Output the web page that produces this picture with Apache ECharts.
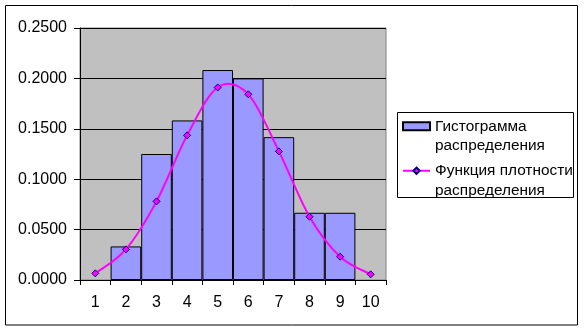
<!DOCTYPE html>
<html>
<head>
<meta charset="utf-8">
<script src="https://cdn.jsdelivr.net/npm/echarts@6/dist/echarts.min.js"></script>
<style>
html,body{margin:0;padding:0;background:#fff;}
#c{width:585px;height:332px;}
</style>
</head>
<body>
<div id="c"></div>
<script>
var categories = ['1','2','3','4','5','6','7','8','9','10'];
var histValues = ['-', 0.0333, 0.1250, 0.1583, 0.2083, 0.2000, 0.1417, 0.0667, 0.0667, '-'];
var densityValues = [0.0066, 0.0304, 0.0780, 0.1435, 0.1910, 0.1842, 0.1276, 0.0628, 0.0231, 0.0056];
var seriesNames = ['Гистограмма\nраспределения', 'Функция плотности\nраспределения'];

var font = 'Liberation Sans, Arial, sans-serif';
var chart = echarts.init(document.getElementById('c'), null, {renderer: 'canvas'});

function renderCurve(params, api) {
  var pts = densityValues.map(function (v, i) { return api.coord([i, v]); });
  var n = pts.length, children = [];
  for (var i = 0; i < n - 1; i++) {
    var p0 = pts[Math.max(i - 1, 0)], p1 = pts[i], p2 = pts[i + 1], p3 = pts[Math.min(i + 2, n - 1)];
    children.push({
      type: 'bezierCurve',
      shape: {
        x1: p1[0], y1: p1[1],
        cpx1: p1[0] + (p2[0] - p0[0]) / 6, cpy1: p1[1] + (p2[1] - p0[1]) / 6,
        cpx2: p2[0] - (p3[0] - p1[0]) / 6, cpy2: p2[1] - (p3[1] - p1[1]) / 6,
        x2: p2[0], y2: p2[1]
      },
      style: {stroke: '#FF00FF', lineWidth: 2, fill: null}
    });
  }
  return {type: 'group', children: children};
}

chart.setOption({
  animation: false,
  backgroundColor: '#ffffff',
  graphic: [{
    type: 'rect',
    shape: {x: 5.5, y: 5.5, width: 572, height: 319.5},
    style: {fill: 'none', stroke: '#000', lineWidth: 1},
    z: -1
  }, {
    type: 'rect',
    shape: {x: 397.5, y: 112.5, width: 176, height: 85},
    style: {fill: '#fff', stroke: '#000', lineWidth: 1},
    z: 0
  }],
  grid: {
    left: 80, right: 199, top: 28, bottom: 52,
    show: true, backgroundColor: '#C0C0C0', borderColor: '#808080', borderWidth: 1
  },
  legend: {
    left: 397, top: 97,
    orient: 'vertical',
    itemWidth: 27, itemHeight: 8, itemGap: -14,
    padding: [0, 6, 0, 5],
    borderWidth: 0,
    formatter: function (name) { return ' \n' + name; },
    textStyle: {fontFamily: font, fontSize: 15.4, color: '#000', lineHeight: 19.5},
    data: [
      {name: seriesNames[0], icon: 'rect'},
      {name: seriesNames[1], lineStyle: {opacity: 1, width: 2, color: '#FF00FF'}}
    ]
  },
  xAxis: {
    type: 'category',
    data: categories,
    boundaryGap: true,
    axisLine: {lineStyle: {color: '#000', width: 1}},
    axisTick: {show: true, length: 5, lineStyle: {color: '#000'}},
    axisLabel: {fontFamily: font, fontSize: 16, color: '#000', margin: 15}
  },
  yAxis: {
    type: 'value',
    min: 0, max: 0.25, interval: 0.05,
    axisLine: {show: true, lineStyle: {color: '#000', width: 1}},
    axisTick: {show: true, length: 6, lineStyle: {color: '#000'}},
    axisLabel: {fontFamily: font, fontSize: 16, color: '#000', margin: 13,
      formatter: function (v) { return v.toFixed(4); }},
    splitLine: {show: true, lineStyle: {color: '#000', width: 1}}
  },
  series: [
    {
      name: seriesNames[0],
      type: 'bar',
      data: histValues,
      barCategoryGap: '0%',
      itemStyle: {color: '#9999FF', borderColor: '#000', borderWidth: 1}
    },
    {
      name: 'curve',
      type: 'custom',
      data: [0],
      renderItem: renderCurve,
      z: 4,
      silent: true
    },
    {
      name: seriesNames[1],
      type: 'line',
      data: densityValues,
      symbol: 'diamond',
      symbolSize: 7,
      lineStyle: {color: '#FF00FF', width: 2, opacity: 0},
      itemStyle: {color: '#FF00FF', borderColor: '#000080', borderWidth: 1},
      z: 5
    }
  ]
});
</script>
</body>
</html>
